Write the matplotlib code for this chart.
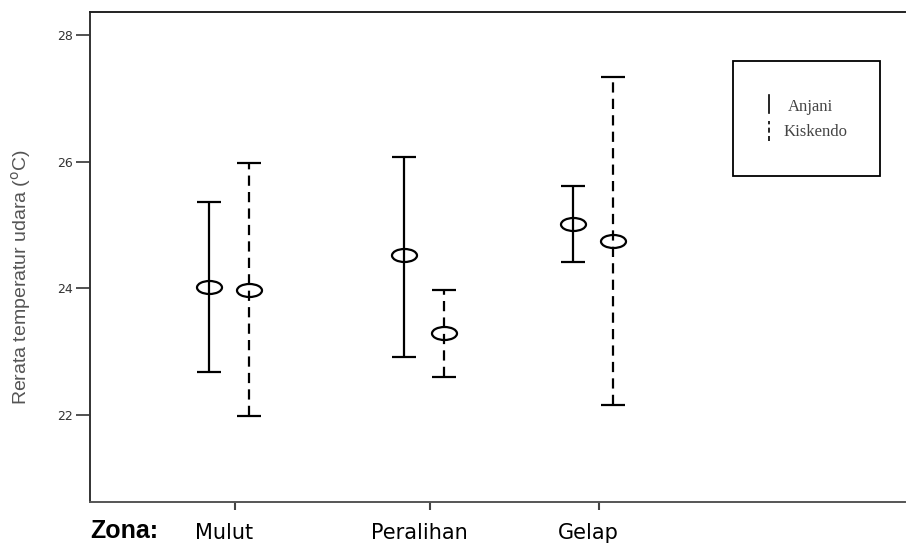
import matplotlib
matplotlib.use("Agg")
from matplotlib import pyplot as plt
from matplotlib.path import Path
from matplotlib.patches import Rectangle
from matplotlib.lines import Line2D
import numpy as np

# data
zones = ["Mulut", "Peralihan", "Gelap"]
anjani_mean = [24.02, 24.53, 25.01]
anjani_low = [22.68, 22.92, 24.41]
anjani_high = [25.36, 26.08, 25.61]
kisk_mean = [23.98, 23.29, 24.75]
kisk_low = [21.98, 22.60, 22.16]
kisk_high = [25.98, 23.97, 27.33]

# group centres on the x axis (spacing is uneven in the original)
centres = np.array([1.0, 2.0, 2.867])
shift = 0.103

# open ellipse marker
circ = Path.unit_circle()
ellipse = Path(circ.vertices * np.array([1.0, 0.52]), circ.codes)

fig = plt.figure(figsize=(9.12, 5.47), dpi=100)
ax = fig.add_axes([0.0987, 0.0823, 0.8935, 0.8957])


def draw(xs, mean, low, high, dashed):
    mean = np.array(mean)
    yerr = [mean - np.array(low), np.array(high) - mean]
    eb = ax.errorbar(xs, mean, yerr=yerr, fmt='none', ecolor='black',
                     elinewidth=1.6, capsize=8.5, capthick=1.6)
    if dashed:
        for lc in eb[2]:
            lc.set_linestyle((0, (4.6, 2.8)))
    ax.plot(xs, mean, linestyle='none', marker=ellipse, markersize=18,
            markerfacecolor='none', markeredgecolor='black',
            markeredgewidth=1.6, zorder=5)


draw(centres - shift, anjani_mean, anjani_low, anjani_high, False)
draw(centres + shift, kisk_mean, kisk_low, kisk_high, True)

ax.set_xlim(0.287, 4.467)
ax.set_ylim(20.63, 28.36)

ax.set_yticks([22, 24, 26, 28])
ax.tick_params(axis='y', direction='out', length=10, width=1.2,
               color='#333333', labelsize=9, labelcolor='#333333', pad=2)

# tick marks and labels sit a little apart in the original
ax.set_xticks(centres + 0.03)
ax.set_xticklabels([])
ax.tick_params(axis='x', which='major', direction='out', length=6,
               width=1.5, color='#444444')
ax.set_xticks(centres - 0.025, minor=True)
ax.set_xticklabels(zones, minor=True)
ax.tick_params(axis='x', which='minor', length=0, pad=15, labelsize=15)

ax.set_ylabel(r"Rerata temperatur udara ($^{\rm o}$C)", fontsize=14,
              color='#555555', family='Liberation Sans')
ax.yaxis.set_label_coords(-0.070, 0.46)

for s in ['left', 'top', 'bottom']:
    ax.spines[s].set_linewidth(1.4)
ax.spines['left'].set_color('#333333')
ax.spines['top'].set_color('#222222')
ax.spines['bottom'].set_color('#555555')
ax.spines['right'].set_visible(False)

# legend box drawn by hand like the original
ax.add_patch(Rectangle((0.789, 0.665), 0.18, 0.236, transform=ax.transAxes,
                       fill=False, edgecolor='black', linewidth=1.3))
ax.add_line(Line2D([0.833, 0.833], [0.794, 0.831], transform=ax.transAxes,
                   color='black', linewidth=1.2))
ax.add_line(Line2D([0.833, 0.833], [0.737, 0.778], transform=ax.transAxes,
                   color='black', linewidth=1.2, linestyle=(0, (3, 2))))
ax.text(0.856, 0.806, "Anjani", transform=ax.transAxes, fontsize=12,
        family='Liberation Serif', color='#444444', va='center')
ax.text(0.851, 0.755, "Kiskendo", transform=ax.transAxes, fontsize=12,
        family='Liberation Serif', color='#444444', va='center')

fig.text(0.099, 0.007, "Zona:", fontsize=18, fontweight='bold',
         family='Liberation Sans', va='bottom')

fig.savefig("out.png", dpi=100)
